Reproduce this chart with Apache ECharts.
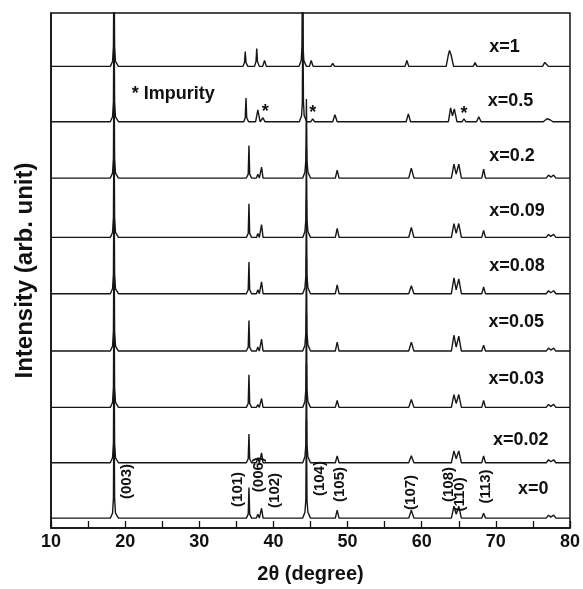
<!DOCTYPE html>
<html>
<head>
<meta charset="utf-8">
<script src="https://cdn.jsdelivr.net/npm/echarts@6/dist/echarts.min.js"></script>
<style>
html,body{margin:0;padding:0;background:#fff;}
#chart{width:583px;height:589px;}
</style>
</head>
<body>
<div id="chart"></div>
<script>
// ---- data (2θ in degrees, intensity in arbitrary units above each pattern's baseline) ----
const sampleNames = ['x=0','x=0.02','x=0.03','x=0.05','x=0.08','x=0.09','x=0.2','x=0.5','x=1'];
const baselineOffsets = [10, 66, 122, 179, 237, 294, 354, 411, 467];

const pattern_x0 = [[10,0],[18.0,0],[18.3,5],[18.42,20],[18.5,130],[18.58,20],[18.7,5],[19.1,0],
 [36.35,0],[36.6,4],[36.7,31],[36.8,4],[37.05,0],[37.7,0],[37.9,4],[38.1,0],[38.2,0],[38.4,10],[38.6,0],
 [43.95,0],[44.25,6],[44.37,18],[44.45,100],[44.53,18],[44.65,6],[45.0,0],
 [48.35,0],[48.6,8],[48.85,0],[58.25,0],[58.6,8],[58.95,0],
 [64.0,0],[64.35,12],[64.65,4],[65.0,12],[65.35,0],[68.1,0],[68.35,5],[68.6,0],
 [76.8,0],[77.1,3],[77.4,1],[77.8,3],[78.1,0],[80,0]];
const pattern_x002 = [[10,0],[18.0,0],[18.3,5],[18.42,20],[18.5,130],[18.58,20],[18.7,5],[19.1,0],
 [36.35,0],[36.6,4],[36.7,29],[36.8,4],[37.05,0],[37.7,0],[37.9,5],[38.1,0],[38.2,0],[38.4,10],[38.6,0],
 [43.95,0],[44.25,6],[44.37,18],[44.45,100],[44.53,18],[44.65,6],[45.0,0],
 [48.35,0],[48.6,7],[48.85,0],[58.25,0],[58.6,7],[58.95,0],
 [64.0,0],[64.35,12],[64.65,4],[65.0,12],[65.35,0],[68.1,0],[68.35,7],[68.6,0],
 [76.8,0],[77.1,3],[77.4,1],[77.8,3],[78.1,0],[80,0]];
const pattern_x003 = [[10,0],[18.0,0],[18.3,5],[18.42,20],[18.5,130],[18.58,20],[18.7,5],[19.1,0],
 [36.35,0],[36.6,4],[36.7,33],[36.8,4],[37.05,0],[37.7,0],[37.9,3],[38.1,0],[38.2,0],[38.4,9],[38.6,0],
 [43.95,0],[44.25,6],[44.37,18],[44.45,95],[44.53,18],[44.65,6],[45.0,0],
 [48.35,0],[48.6,7],[48.85,0],[58.25,0],[58.6,8],[58.95,0],
 [64.0,0],[64.35,13],[64.65,4],[65.0,13],[65.35,0],[68.1,0],[68.35,7],[68.6,0],
 [76.8,0],[77.1,3],[77.4,1],[77.8,3],[78.1,0],[80,0]];
const pattern_x005 = [[10,0],[18.0,0],[18.3,5],[18.42,20],[18.5,125],[18.58,20],[18.7,5],[19.1,0],
 [36.35,0],[36.6,4],[36.7,31],[36.8,4],[37.05,0],[37.7,0],[37.9,4],[38.1,0],[38.2,0],[38.4,12],[38.6,0],
 [43.95,0],[44.25,6],[44.37,18],[44.45,95],[44.53,18],[44.65,6],[45.0,0],
 [48.35,0],[48.6,9],[48.85,0],[58.25,0],[58.6,9],[58.95,0],
 [64.0,0],[64.35,16],[64.65,4],[65.0,15],[65.35,0],[68.1,0],[68.35,6],[68.6,0],
 [76.8,0],[77.1,3],[77.4,1],[77.8,3],[78.1,0],[80,0]];
const pattern_x008 = [[10,0],[18.0,0],[18.3,5],[18.42,20],[18.5,125],[18.58,20],[18.7,5],[19.1,0],
 [36.35,0],[36.6,4],[36.7,32],[36.8,4],[37.05,0],[37.7,0],[37.9,4],[38.1,0],[38.2,0],[38.4,12],[38.6,0],
 [43.95,0],[44.25,6],[44.37,18],[44.45,95],[44.53,18],[44.65,6],[45.0,0],
 [48.35,0],[48.6,9],[48.85,0],[58.25,0],[58.6,8],[58.95,0],
 [64.0,0],[64.35,16],[64.65,4],[65.0,15],[65.35,0],[68.1,0],[68.35,7],[68.6,0],
 [76.8,0],[77.1,3],[77.4,1],[77.8,3],[78.1,0],[80,0]];
const pattern_x009 = [[10,0],[18.0,0],[18.3,5],[18.42,20],[18.5,125],[18.58,20],[18.7,5],[19.1,0],
 [36.35,0],[36.6,4],[36.7,34],[36.8,4],[37.05,0],[37.7,0],[37.9,4],[38.1,0],[38.2,0],[38.4,13],[38.6,0],
 [43.95,0],[44.25,6],[44.37,18],[44.45,90],[44.53,18],[44.65,6],[45.0,0],
 [48.35,0],[48.6,9],[48.85,0],[58.25,0],[58.6,10],[58.95,0],
 [64.0,0],[64.35,14],[64.65,4],[65.0,14],[65.35,0],[68.1,0],[68.35,7],[68.6,0],
 [76.8,0],[77.1,3],[77.4,1],[77.8,3],[78.1,0],[80,0]];
const pattern_x02 = [[10,0],[18.0,0],[18.3,5],[18.42,20],[18.5,125],[18.58,20],[18.7,5],[19.1,0],
 [36.35,0],[36.6,4],[36.7,33],[36.8,4],[37.05,0],[37.7,0],[37.9,4],[38.1,0],[38.2,0],[38.4,11],[38.6,0],
 [43.95,0],[44.25,6],[44.37,18],[44.45,80],[44.53,18],[44.65,6],[45.0,0],
 [48.35,0],[48.6,8],[48.85,0],[58.25,0],[58.6,10],[58.95,0],
 [64.0,0],[64.35,14],[64.65,4],[65.0,14],[65.35,0],[68.1,0],[68.35,9],[68.6,0],
 [76.8,0],[77.1,3],[77.4,1],[77.8,3],[78.1,0],[80,0]];
const pattern_x05 = [[10,0],[18.0,0],[18.3,5],[18.42,20],[18.5,125],[18.58,20],[18.7,5],[19.1,0],
 [36.0,0],[36.2,4],[36.3,24],[36.4,4],[36.65,0],[37.6,0],[37.9,12],[38.2,0],[38.4,0],[38.6,4],[38.85,0],
 [43.5,0],[43.8,6],[43.9,20],[43.97,120],[44.05,20],[44.15,6],[44.5,0],[45.05,0],[45.3,3],[45.55,0],
 [48.0,0],[48.3,7],[48.6,0],[57.9,0],[58.2,8],[58.5,0],
 [63.6,0],[63.9,14],[64.15,6],[64.4,13],[64.75,0],[65.45,0],[65.7,3],[65.95,0],[67.4,0],[67.7,5],[68.0,0],
 [76.4,0],[76.9,3],[77.3,2],[77.7,0],[80,0]];
const pattern_x1 = [[10,0],[18.0,0],[18.3,5],[18.42,20],[18.5,120],[18.58,20],[18.7,5],[19.1,0],
 [35.9,0],[36.1,4],[36.2,15],[36.3,4],[36.55,0],[37.45,0],[37.65,5],[37.75,18],[37.85,5],[38.1,0],[38.55,0],[38.8,6],[39.05,0],
 [43.45,0],[43.75,6],[43.85,20],[43.92,120],[44.0,20],[44.1,6],[44.45,0],[44.85,0],[45.1,6],[45.35,0],
 [47.75,0],[48.0,3],[48.25,0],[57.75,0],[58.0,6],[58.25,0],
 [63.3,0],[63.6,12],[63.75,16],[63.95,12],[64.3,0],[65.45,0],[65.7,2],[65.95,0],[66.95,0],[67.2,4],[67.45,0],
 [76.3,0],[76.6,4],[76.8,5],[77.1,0],[80,0]];

const patterns = [pattern_x0, pattern_x002, pattern_x003, pattern_x005, pattern_x008, pattern_x009, pattern_x02, pattern_x05, pattern_x1];

// x-axis tick labels
const xTickLabels = ['10','20','30','40','50','60','70','80'];

// annotations (in data coordinates: [2θ, y])
const millerLabels = ['(003)','(101)','(006)','(102)','(104)','(105)','(107)','(108)','(110)','(113)'];
const millerAt = [[20.19,47],[35.17,39],[38.04,54],[40.15,38],[46.21,50],[48.9,44],[58.56,36],[63.67,44],[65.15,34],[68.65,42]];
const sampleLabelAt = [[73.0,39],[69.6,89],[69.0,151],[69.0,208],[69.1,265],[69.1,321],[69.1,376],[68.9,432],[69.1,487]];
const impurityText = '* Impurity';
const impurityAt = [20.9, 439];
const starsAt = [[38.9,421],[45.3,420],[65.7,419]];

const FONT = '"Liberation Sans", Arial, Helvetica, sans-serif';
const chart = echarts.init(document.getElementById('chart'), null, {renderer:'canvas'});

const series = patterns.map((p, k) => ({
  type:'line', name: sampleNames[k], showSymbol:false, symbol:'none', clip:true,
  lineStyle:{color:'#161616', width:1.4},
  data: p.map(([t, i]) => [t, i + baselineOffsets[k]]),
  z: 2
}));

chart.setOption({
  animation:false,
  backgroundColor:'#fff',
  grid:{left:51, right:12, top:13, bottom:55, show:true, borderColor:'#111', borderWidth:1.5, backgroundColor:'transparent'},
  xAxis:{type:'value', min:10, max:80, interval:5,
    axisLine:{show:true, lineStyle:{color:'#111', width:1.5}},
    axisTick:{show:true, inside:true, length:7, lineStyle:{color:'#111', width:1.3}},
    axisLabel:{formatter:(v)=> (v % 10 === 0 ? xTickLabels[(v-10)/10] : ''), fontSize:18, fontWeight:'bold', color:'#111', margin:5, fontFamily:FONT},
    splitLine:{show:false},
    name:'2θ (degree)', nameLocation:'middle', nameGap:36,
    nameTextStyle:{fontSize:20, fontWeight:'bold', color:'#111', fontFamily:FONT}
  },
  yAxis:{type:'value', min:0, max:521,
    axisLine:{show:true, lineStyle:{color:'#111', width:1.5}},
    axisTick:{show:false}, axisLabel:{show:false}, splitLine:{show:false},
    name:'Intensity (arb. unit)', nameLocation:'middle', nameGap:14,
    nameTextStyle:{fontSize:24, fontWeight:'bold', color:'#111', fontFamily:FONT}
  },
  series: series
});

function px(pt){ return chart.convertToPixel({gridIndex:0}, pt); }
const graphics = [];
millerLabels.forEach((t, i) => {
  const p = px(millerAt[i]);
  graphics.push({type:'text', x:p[0], y:p[1], rotation:Math.PI/2, z:10,
    style:{text:t, fill:'#111', font:'bold 15px ' + FONT, textAlign:'center', textVerticalAlign:'middle', align:'center', verticalAlign:'middle'}});
});
sampleNames.forEach((t, i) => {
  const p = px(sampleLabelAt[i]);
  graphics.push({type:'text', x:p[0], y:p[1], z:10,
    style:{text:t, fill:'#111', font:'bold 18px ' + FONT, textAlign:'left', textVerticalAlign:'middle', align:'left', verticalAlign:'middle'}});
});
{
  const p = px(impurityAt);
  graphics.push({type:'text', x:p[0], y:p[1], z:10,
    style:{text:impurityText, fill:'#111', font:'bold 18px ' + FONT, textAlign:'left', textVerticalAlign:'middle', align:'left', verticalAlign:'middle'}});
}
starsAt.forEach(s => {
  const p = px(s);
  graphics.push({type:'text', x:p[0], y:p[1], z:10,
    style:{text:'*', fill:'#111', font:'bold 18px ' + FONT, textAlign:'center', textVerticalAlign:'middle', align:'center', verticalAlign:'middle'}});
});
chart.setOption({graphic: graphics});
</script>
</body>
</html>
